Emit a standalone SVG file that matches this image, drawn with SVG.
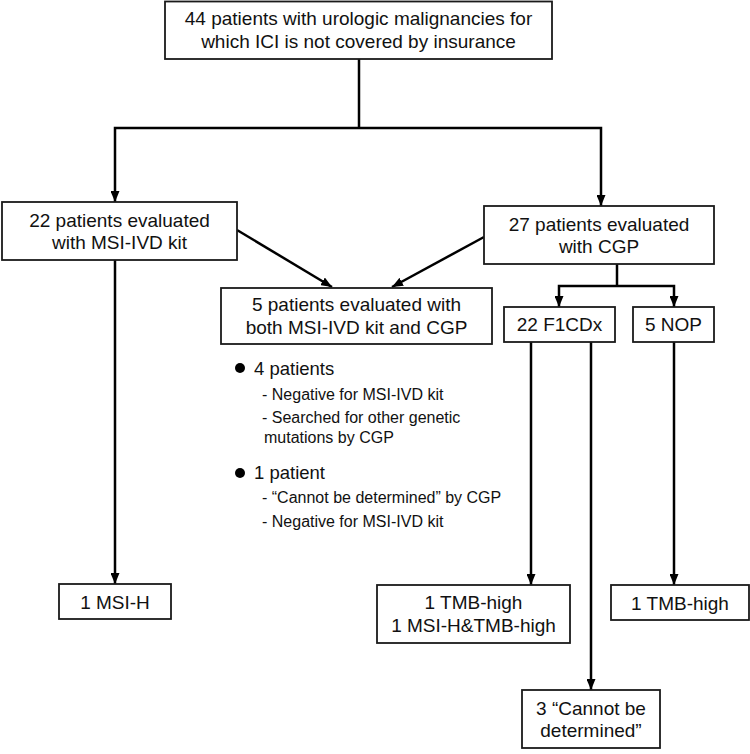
<svg xmlns="http://www.w3.org/2000/svg" width="750" height="754" viewBox="0 0 750 754">
<defs>
<marker id="ah" viewBox="0 0 11 9" refX="11" refY="4.5" markerWidth="11" markerHeight="9" markerUnits="userSpaceOnUse" orient="auto">
<path d="M0,0 L11,4.5 L0,9 z" fill="#000"/>
</marker>
<style>
.box{fill:#fff;stroke:#1a1a1a;stroke-width:1.8}
.t{font-family:"Liberation Sans",Arial,sans-serif;font-size:19px;fill:#111;text-anchor:middle}
.b{font-family:"Liberation Sans",Arial,sans-serif;font-size:18.5px;fill:#111}
.s{font-family:"Liberation Sans",Arial,sans-serif;font-size:16px;fill:#111}
.c{fill:none;stroke:#000;stroke-width:2.5}
.a{fill:none;stroke:#000;stroke-width:2.5;marker-end:url(#ah)}
</style>
</defs>
<rect width="750" height="754" fill="#fff"/>
<g id="connectors">
<polyline class="c" points="359,59 359,128"/>
<polyline class="a" points="359,128 115,128 115,202"/>
<polyline class="a" points="359,128 601,128 601,206"/>
<line class="a" x1="237" y1="230" x2="332" y2="287"/>
<line class="a" x1="484" y1="237" x2="392" y2="287"/>
<line class="a" x1="115" y1="260" x2="115" y2="584"/>
<polyline class="c" points="617,264 617,286"/>
<polyline class="a" points="617,286 559,286 559,307"/>
<polyline class="a" points="617,286 674,286 674,307"/>
<line class="a" x1="531" y1="342" x2="531" y2="585"/>
<line class="a" x1="591" y1="342" x2="591" y2="690"/>
<line class="a" x1="674" y1="342" x2="674" y2="585"/>
</g>
<g id="top">
<rect class="box" x="165" y="1.5" width="387" height="57.5"/>
<text class="t" x="358.5" y="25">44 patients with urologic malignancies for</text>
<text class="t" x="358.5" y="48">which ICI is not covered by insurance</text>
</g>
<g id="msi">
<rect class="box" x="2" y="202" width="235" height="58"/>
<text class="t" x="119.5" y="227">22 patients evaluated</text>
<text class="t" x="119.5" y="249">with MSI-IVD kit</text>
</g>
<g id="cgp">
<rect class="box" x="484" y="206" width="230" height="58"/>
<text class="t" x="599" y="231">27 patients evaluated</text>
<text class="t" x="599" y="253">with CGP</text>
</g>
<g id="both">
<rect class="box" x="221" y="288" width="271" height="56"/>
<text class="t" x="356.5" y="311">5 patients evaluated with</text>
<text class="t" x="356.5" y="334">both MSI-IVD kit and CGP</text>
</g>
<g id="f1cdx">
<rect class="box" x="504" y="307" width="111" height="35"/>
<text class="t" x="559.5" y="331">22 F1CDx</text>
</g>
<g id="nop">
<rect class="box" x="633" y="307" width="81" height="35"/>
<text class="t" x="673.5" y="331">5 NOP</text>
</g>
<g id="notes">
<circle cx="240" cy="368" r="5" fill="#000"/>
<text class="b" x="254" y="375">4 patients</text>
<text class="s" x="262" y="400">- Negative for MSI-IVD kit</text>
<text class="s" x="262" y="423">- Searched for other genetic</text>
<text class="s" x="264" y="443">mutations by CGP</text>
<circle cx="240" cy="473" r="5" fill="#000"/>
<text class="b" x="254" y="479">1 patient</text>
<text class="s" x="262" y="503">- “Cannot be determined” by CGP</text>
<text class="s" x="262" y="527">- Negative for MSI-IVD kit</text>
</g>
<g id="msih">
<rect class="box" x="59" y="584" width="112" height="35"/>
<text class="t" x="115" y="609">1 MSI-H</text>
</g>
<g id="tmb1">
<rect class="box" x="377" y="585" width="193" height="58"/>
<text class="t" x="473.5" y="609">1 TMB-high</text>
<text class="t" x="473.5" y="632">1 MSI-H&amp;TMB-high</text>
</g>
<g id="tmb2">
<rect class="box" x="611" y="585" width="138" height="35"/>
<text class="t" x="680" y="610">1 TMB-high</text>
</g>
<g id="cbd">
<rect class="box" x="522" y="690" width="138" height="58"/>
<text class="t" x="591" y="715">3 “Cannot be</text>
<text class="t" x="591" y="737">determined”</text>
</g>
</svg>
